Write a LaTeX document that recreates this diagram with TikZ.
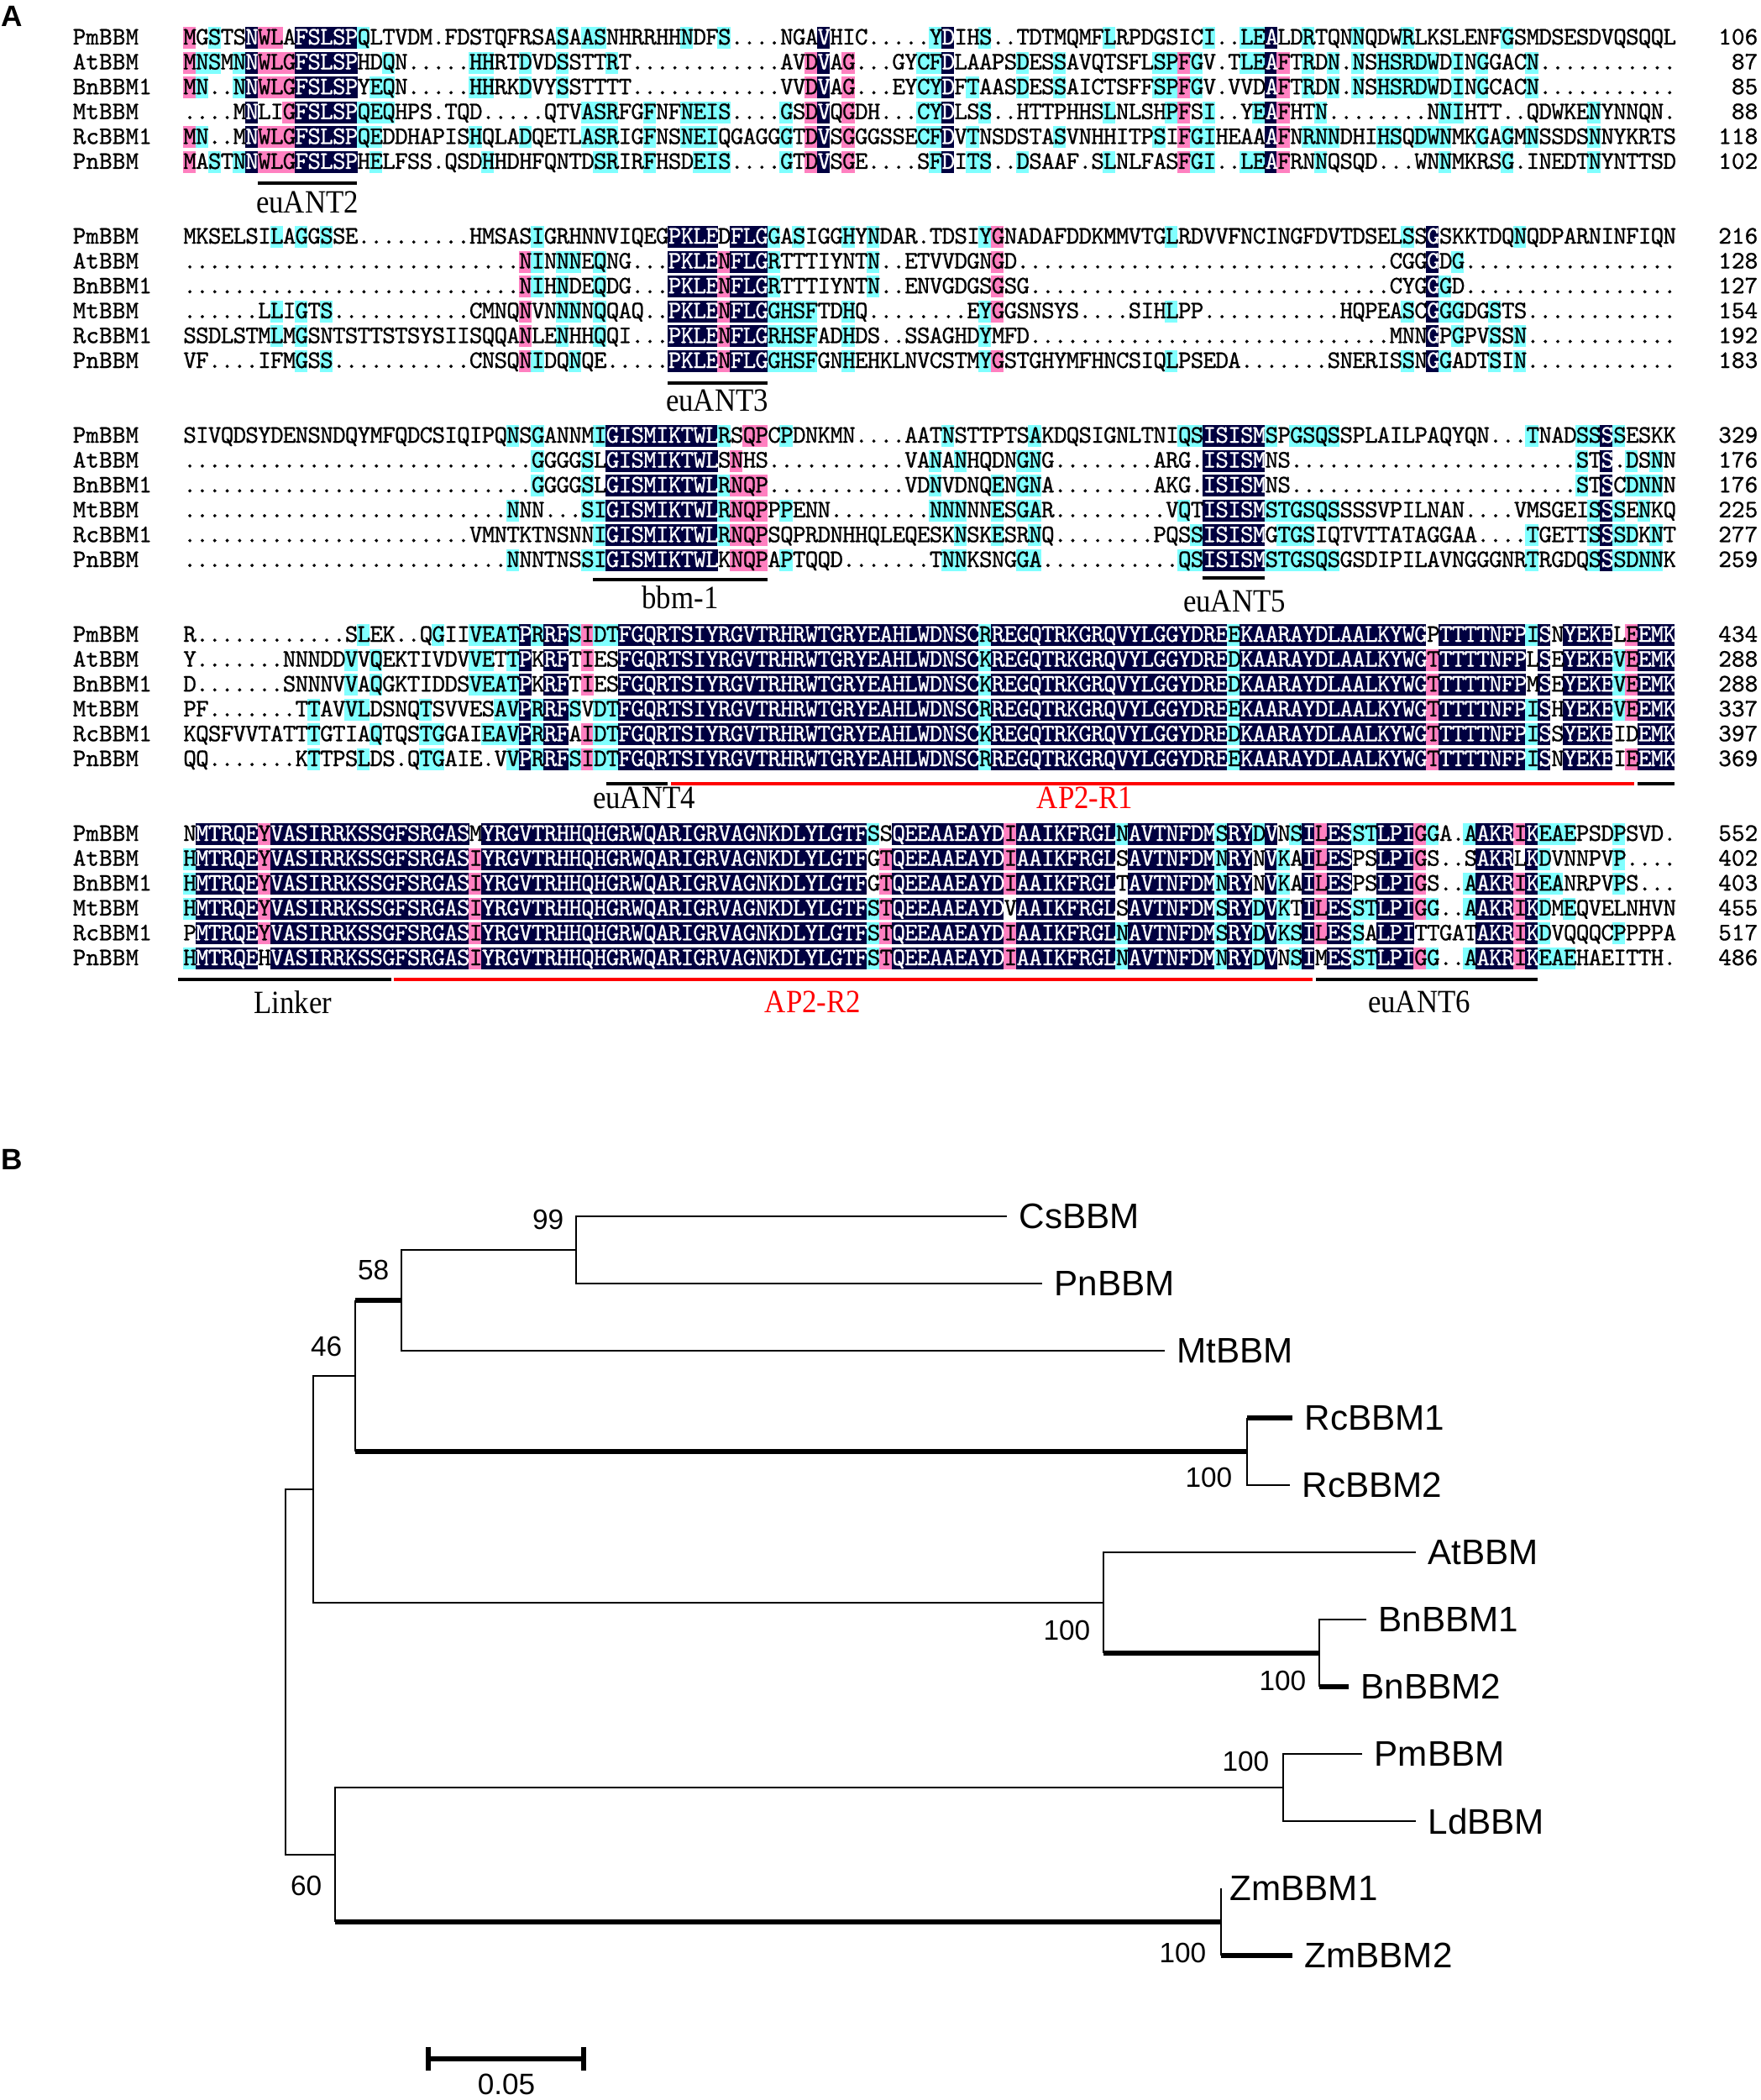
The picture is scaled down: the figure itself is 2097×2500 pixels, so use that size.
\documentclass[tikz,border=0pt]{standalone}
\usepackage{fontspec}
\setmainfont{Liberation Serif}
\setsansfont{Liberation Sans}
\newfontfamily\seqfont{lmmono10-regular}[Extension=.otf,FakeBold=0.8]
\newfontfamily\lblfont{Liberation Serif}[FakeStretch=0.9]
\usetikzlibrary{positioning}

\definecolor{alnDark}{RGB}{0,0,64}
\definecolor{alnPink}{RGB}{255,128,192}
\definecolor{alnCyan}{RGB}{128,255,255}

% one residue in a fixed cell
\newcommand\alnchar[1]{\makebox[0.148cm]{#1}}
\newcommand\alnwhite[1]{\makebox[0.148cm]{\textcolor{white}{#1}}}

% conserved stretches of the AP2 repeats
\newcommand\arA{FGQRTSIYRGVTRHRWTGRYEAHLWDNSC}
\newcommand\arB{REGQTRKGRQVYLGGYDRE}
\newcommand\arC{KAARAYDLAALKYWG}
\newcommand\rtA{VASIRRKSSGFSRGAS}
\newcommand\rtB{YRGVTRHHQHGRWQARIGRVAGNKDLYLGTF}
\newcommand\rtC{QEEAAEAYD}
\newcommand\rtD{AAIKFRGL}
\newcommand\rtE{AVTNFDM}

\ExplSyntaxOn
\seq_new:N \g_aln_rows_seq
\seq_new:N \g_aln_names_seq
\seq_new:N \g_aln_nums_seq
\int_new:N \l_aln_cnt_int
\tl_new:N \l_aln_row_tl
\tl_new:N \l_aln_ch_tl
\tl_new:N \l_aln_text_tl
\tl_new:N \l_aln_y_tl
\cs_new:Npn \gapn #1 { \prg_replicate:nn {#1} {.} }
\NewDocumentCommand \alnrow { m m m }
  {
    \seq_gput_right:Nn \g_aln_names_seq {#1}
    \seq_gput_right:Nx \g_aln_rows_seq {#2}
    \seq_gput_right:Nn \g_aln_nums_seq {#3}
  }
\cs_new_protected:Npn \aln_cell:nn #1#2
  {
    \use:x
      {
        \exp_not:N \fill [#1]
          ( \fp_eval:n { 218 + (#2 - 1) * 14.8 } , \fp_eval:n { \l_aln_y_tl - 13 } )
          rectangle
          ( \fp_eval:n { 218 + #2 * 14.8 + 0.4 } , \fp_eval:n { \l_aln_y_tl + 13 } ) ;
      }
  }
% #1 = y of first row, #2 = block tag
\NewDocumentCommand \alnblock { m m }
  {
    \int_step_inline:nn { \seq_count:N \g_aln_rows_seq }
      {
        \tl_set:Nx \l_aln_row_tl { \seq_item:Nn \g_aln_rows_seq {##1} }
        \tl_set:Nx \l_aln_y_tl { \fp_eval:n { #1 + (##1 - 1) * 29.6 } }
        \tl_clear:N \l_aln_text_tl
        \int_step_inline:nn { \tl_count:N \l_aln_row_tl }
          {
            \tl_set:Nx \l_aln_ch_tl { \tl_item:Nn \l_aln_row_tl {####1} }
            \str_if_eq:VnTF \l_aln_ch_tl { . }
              { \tl_put_right:Nn \l_aln_text_tl { \alnchar{.} } }
              {
                \int_zero:N \l_aln_cnt_int
                \seq_map_inline:Nn \g_aln_rows_seq
                  {
                    \str_if_eq:eeT { \tl_item:nn {########1} {####1} } { \l_aln_ch_tl }
                      { \int_incr:N \l_aln_cnt_int }
                  }
                \int_compare:nNnTF \l_aln_cnt_int > 5
                  {
                    \aln_cell:nn { alnDark } {####1}
                    \tl_put_right:Nx \l_aln_text_tl { \exp_not:N \alnwhite { \l_aln_ch_tl } }
                  }
                  {
                    \int_compare:nNnT \l_aln_cnt_int = 5
                      { \aln_cell:nn { alnPink } {####1} }
                    \int_compare:nNnT \l_aln_cnt_int > 2
                      { \int_compare:nNnT \l_aln_cnt_int < 5 { \aln_cell:nn { alnCyan } {####1} } }
                    \tl_put_right:Nx \l_aln_text_tl { \exp_not:N \alnchar { \l_aln_ch_tl } }
                  }
              }
          }
        \use:x
          {
            \exp_not:N \node [ seqtext ] ( #2 - seq - ##1 ) at ( 218 , \fp_eval:n { \l_aln_y_tl + 8 } )
              { \exp_not:V \l_aln_text_tl } ;
            \exp_not:N \node [ seqname ] ( #2 - name - ##1 ) at ( 86 , \fp_eval:n { \l_aln_y_tl + 8 } )
              { \seq_item:Nn \g_aln_names_seq {##1} } ;
            \exp_not:N \node [ seqnum ] ( #2 - num - ##1 ) at ( 2094 , \fp_eval:n { \l_aln_y_tl + 8 } )
              { \seq_item:Nn \g_aln_nums_seq {##1} } ;
          }
      }
    \seq_gclear:N \g_aln_rows_seq
    \seq_gclear:N \g_aln_names_seq
    \seq_gclear:N \g_aln_nums_seq
  }
\ExplSyntaxOff

\tikzset{
  seqtext/.style={anchor=base west, inner sep=0pt, font=\seqfont\fontsize{8.5}{8.5}\selectfont},
  seqname/.style={seqtext},
  seqnum/.style={anchor=base east, inner sep=0pt, font=\seqfont\fontsize{8.5}{8.5}\selectfont},
  motifline/.style={line width=1.3pt},
  redline/.style={motifline, red},
  motiflabel/.style={font=\lblfont\fontsize{11}{11}\selectfont, inner sep=0pt},
  redlabel/.style={motiflabel, text=red},
  branch/.style={line width=0.7pt},
  thickbranch/.style={line width=1.5pt},
  leaf/.style={font=\sffamily\fontsize{12}{12}\selectfont, inner sep=0pt},
  boot/.style={font=\sffamily\fontsize{9.5}{9.5}\selectfont, inner sep=0pt, anchor=east},
  panel/.style={font=\sffamily\bfseries\fontsize{10}{10}\selectfont, inner sep=0pt}
}

\begin{document}
\begin{tikzpicture}[x=0.01cm, y=-0.01cm]
\fill[white] (0,0) rectangle (2097,2500);
\path[use as bounding box] (0,0) rectangle (2097,2500);

\node[panel] (pA) at (14,19) {A};

% block 1
\alnrow{PmBBM}{MGSTSNWLAFSLSPQLTVDM.FDSTQFRSASAASNHRRHHNDFS\gapn{4}NGAVHIC\gapn{5}YDIHS..TDTMQMFLRPDGSICI..LEALDRTQNNQDWRLKSLENFGSMDSESDVQSQQL}{106}
\alnrow{AtBBM}{MNSMNNWLGFSLSPHDQN\gapn{5}HHRTDVDSSTTRT\gapn{12}AVDVAG...GYCFDLAAPSDESSAVQTSFLSPFGV.TLEAFTRDN.NSHSRDWDINGGACN\gapn{11}}{87}
\alnrow{BnBBM1}{MN..NNWLGFSLSPYEQN\gapn{5}HHRKDVYSSTTTT\gapn{12}VVDVAG...EYCYDFTAASDESSAICTSFFSPFGV.VVDAFTRDN.NSHSRDWDINGCACN\gapn{11}}{85}
\alnrow{MtBBM}{....MNLIGFSLSPQEQHPS.TQD\gapn{5}QTVASRFGFNFNEIS\gapn{4}GSDVQGDH...CYDLSS..HTTPHHSLNLSHPFSI..YEAFHTN\gapn{8}NNIHTT..QDWKENYNNQN.}{88}
\alnrow{RcBBM1}{MN..MNWLGFSLSPQEDDHAPISHQLADQETLASRIGFNSNEIQGAGGGTDVSGGGSSECFDVTNSDSTASVNHHITPSIFGIHEAAAFNRNNDHIHSQDWNMKGAGMNSSDSNNYKRTS}{118}
\alnrow{PnBBM}{MASTNNWLGFSLSPHELFSS.QSDHHDHFQNTDSRIRFHSDEIS\gapn{4}GTDVSGE\gapn{4}SFDITS..DSAAF.SLNLFASFGI..LEAFRNNQSQD...WNNMKRSG.INEDTNYNTTSD}{102}
\alnblock{45}{b1}
\coordinate (ant2L) at (306.8,218);
\coordinate (ant2R) at (425.2,218);
\draw[motifline] (ant2L) -- (ant2R);
\node[motiflabel] (ant2) at (366,241) {euANT2};

% block 2
\alnrow{PmBBM}{MKSELSILAGGSSE\gapn{9}HMSASIGRHNNVIQEGPKLEDFLGGASIGGHYNDAR.TDSIYGNADAFDDKMMVTGLRDVVFNCINGFDVTDSELSSGSKKTDQNQDPARNINFIQN}{216}
\alnrow{AtBBM}{\gapn{27}NINNNEQNG...PKLENFLGRTTTIYNTN..ETVVDGNGD\gapn{30}CGGGDG\gapn{17}}{128}
\alnrow{BnBBM1}{\gapn{27}NIHNDEQDG...PKLENFLGRTTTIYNTN..ENVGDGSGSG\gapn{29}CYGGGD\gapn{17}}{127}
\alnrow{MtBBM}{\gapn{6}LLIGTS\gapn{11}CMNQNVNNNNQQAQ..PKLENFLGGHSFTDHQ\gapn{8}EYGGSNSYS....SIHLPP\gapn{11}HQPEASCGGGDGSTS\gapn{12}}{154}
\alnrow{RcBBM1}{SSDLSTMLMGSNTSTTSTSYSIISQQANLENHHQQI...PKLENFLGRHSFADHDS..SSAGHDYMFD\gapn{29}MNNGPGPVSSN\gapn{12}}{192}
\alnrow{PnBBM}{VF....IFMGSS\gapn{11}CNSQNIDQNQE.....PKLENFLGGHSFGNHEHKLNVCSTMYGSTGHYMFHNCSIQLPSEDA\gapn{7}SNERISSNGGADTSIN\gapn{12}}{183}
\alnblock{282}{b2}
\coordinate (ant3L) at (795.2,456);
\coordinate (ant3R) at (913.6,456);
\draw[motifline] (ant3L) -- (ant3R);
\node[motiflabel] (ant3) at (854,477) {euANT3};

% block 3
\alnrow{PmBBM}{SIVQDSYDENSNDQYMFQDCSIQIPQNSGANNMIGISMIKTWLRSQPCPDNKMN....AATNSTTPTSAKDQSIGNLTNIQSISISMSPGSQSSPLAILPAQYQN...TNADSSSSESKK}{329}
\alnrow{AtBBM}{\gapn{28}GGGGSLGISMIKTWLSNHS\gapn{11}VANANHQDNGNG\gapn{8}ARG.ISISMNS\gapn{23}STS.DSNN}{176}
\alnrow{BnBBM1}{\gapn{28}GGGGSLGISMIKTWLRNQP\gapn{11}VDNVDNQENGNA\gapn{8}AKG.ISISMNS\gapn{23}STSCDNNN}{176}
\alnrow{MtBBM}{\gapn{26}NNN...SIGISMIKTWLRNQPPPENN\gapn{8}NNNNNESGAR\gapn{9}VQTISISMSTGSQSSSSVPILNAN....VMSGEISSSENKQ}{225}
\alnrow{RcBBM1}{\gapn{23}VMNTKTNSNNIGISMIKTWLRNQPSQPRDNHHQLEQESKNSKESRNQ\gapn{8}PQSSISISMGTGSIQTVTTATAGGAA....TGETTSSSDKNT}{277}
\alnrow{PnBBM}{\gapn{26}NNNTNSSIGISMIKTWLKNQPAPTQQD\gapn{7}TNNKSNGGA\gapn{11}QSISISMSTGSQSGSDIPILAVNGGGNRTRGDQSSSDNNK}{259}
\alnblock{519}{b3}
\coordinate (bbmL) at (706.4,690);
\coordinate (bbmR) at (913.6,690);
\draw[motifline] (bbmL) -- (bbmR);
\node[motiflabel] (bbm) at (810,711) {bbm-1};
\coordinate (ant5L) at (1431.6,688);
\coordinate (ant5R) at (1505.6,688);
\draw[motifline] (ant5L) -- (ant5R);
\node[motiflabel] (ant5) at (1470,716) {euANT5};

% block 4
\alnrow{PmBBM}{R\gapn{12}SLEK..QGIIVEATPRRFSIDT\arA R\arB E\arC PTTTTNFPISNYEKELEEMK}{434}
\alnrow{AtBBM}{Y\gapn{7}NNNDDVVQEKTIVDVVETTPKRFTIES\arA K\arB D\arC TTTTTNFPLSEYEKEVEEMK}{288}
\alnrow{BnBBM1}{D\gapn{7}SNNNVVAQGKTIDDSVEATPKRFTIES\arA K\arB D\arC TTTTTNFPMSEYEKEVEEMK}{288}
\alnrow{MtBBM}{PF\gapn{7}TTAVVLDSNQTSVVESAVPRRFSVDT\arA R\arB E\arC TTTTTNFPISHYEKEVEEMK}{337}
\alnrow{RcBBM1}{KQSFVVTATTTGTIAQTQSTGGAIEAVPRRFAIDT\arA K\arB D\arC TTTTTNFPISSYEKEIDEMK}{397}
\alnrow{PnBBM}{QQ\gapn{7}KTTPSLDS.QTGAIE.VVPRRFSIDT\arA R\arB E\arC TTTTTNFPISNYEKEIEEMK}{369}
\alnblock{756}{b4}
\coordinate (ant4L) at (721.6,933);
\coordinate (ant4R) at (795.2,933);
\coordinate (rOneL) at (799,933);
\coordinate (rOneR) at (1946,933);
\coordinate (tailL) at (1950,933);
\coordinate (tailR) at (1994,933);
\draw[motifline] (ant4L) -- (ant4R);
\draw[redline] (rOneL) -- (rOneR);
\draw[motifline] (tailL) -- (tailR);
\node[motiflabel] (ant4) at (767,950) {euANT4};
\node[redlabel] (rOne) at (1292,950) {AP2-R1};

% block 5
\alnrow{PmBBM}{NMTRQEY\rtA M\rtB SS\rtC I\rtD N\rtE SRYDVNSILESSTLPIGGA.AAKRIKEAEPSDPSVD.}{552}
\alnrow{AtBBM}{HMTRQEY\rtA I\rtB GT\rtC I\rtD S\rtE NRYNVKAILESPSLPIGS..SAKRLKDVNNPVP....}{402}
\alnrow{BnBBM1}{HMTRQEY\rtA I\rtB GT\rtC I\rtD T\rtE NRYNVKAILESPSLPIGS..AAKRIKEANRPVPS...}{403}
\alnrow{MtBBM}{HMTRQEY\rtA I\rtB ST\rtC V\rtD S\rtE SRYDVKTILESSTLPIGG..AAKRIKDMEQVELNHVN}{455}
\alnrow{RcBBM1}{PMTRQEY\rtA I\rtB ST\rtC I\rtD N\rtE SRYDVKSILESSALPITTGATAKRIKDVQQQCPPPPA}{517}
\alnrow{PnBBM}{HMTRQEH\rtA I\rtB ST\rtC I\rtD N\rtE NRYDVNSIMESSTLPIGG..AAKRIKEAEHAEITTH.}{486}
\alnblock{993}{b5}
\coordinate (lnkL) at (212,1166);
\coordinate (lnkR) at (466,1166);
\coordinate (rTwoL) at (469,1166);
\coordinate (rTwoR) at (1563,1166);
\coordinate (ant6L) at (1567,1166);
\coordinate (ant6R) at (1831,1166);
\draw[motifline] (lnkL) -- (lnkR);
\draw[redline] (rTwoL) -- (rTwoR);
\draw[motifline] (ant6L) -- (ant6R);
\node[motiflabel] (lnk) at (349,1193) {Linker};
\node[redlabel] (rTwo) at (968,1193) {AP2-R2};
\node[motiflabel] (ant6) at (1690,1193) {euANT6};

% tree
\node[panel] (pB) at (14,1380) {B};

\coordinate (csTip) at (1199,1448);
\coordinate (pnTip) at (1241,1528);
\coordinate (mtTip) at (1387,1608);
\coordinate (rcaTip) at (1539,1688);
\coordinate (rcbTip) at (1536,1768);
\coordinate (atTip) at (1686,1848);
\coordinate (bnaTip) at (1627,1928);
\coordinate (bnbTip) at (1606,2008);
\coordinate (pmTip) at (1622,2088);
\coordinate (ldTip) at (1686,2168);
\coordinate (zmaTip) at (1454,2248);
\coordinate (zmbTip) at (1539,2328);

\coordinate (nCsPn) at (686,1488);
\coordinate (nMt) at (478,1548);
\coordinate (nRc) at (1485,1728);
\coordinate (nUp) at (423,1638);
\coordinate (nBn) at (1571,1968);
\coordinate (nAtBn) at (1314,1908);
\coordinate (nDicot) at (373,1773);
\coordinate (nPmLd) at (1528,2128);
\coordinate (nZm) at (1454,2288);
\coordinate (nMono) at (399,2208);
\coordinate (nRoot) at (340,1990);

\draw[branch] (csTip) -| (nCsPn) |- (pnTip);
\draw[branch] (nCsPn) -| (nMt) |- (mtTip);
\draw[branch] (nUp |- nMt) -- (nUp |- nRc);
\draw[thickbranch] (nUp |- nMt) -- (nMt);
\draw[thickbranch] (nUp |- nRc) -- (nRc);
\draw[branch] (nRc |- rcaTip) -- (nRc) |- (rcbTip);
\draw[thickbranch] (nRc |- rcaTip) -- (rcaTip);
\draw[branch] (atTip) -| (nAtBn) -- (nAtBn |- nBn);
\draw[thickbranch] (nAtBn |- nBn) -- (nBn);
\draw[branch] (bnaTip) -| (nBn) -- (nBn |- bnbTip);
\draw[thickbranch] (nBn |- bnbTip) -- (bnbTip);
\draw[branch] (nUp) -| (nDicot) |- (nAtBn);
\draw[branch] (pmTip) -| (nPmLd) |- (ldTip);
\draw[branch] (zmaTip) -- (nZm) -- (nZm |- zmbTip);
\draw[thickbranch] (nZm |- zmbTip) -- (zmbTip);
\draw[branch] (nPmLd) -| (nMono) -- (nMono |- nZm);
\draw[thickbranch] (nMono |- nZm) -- (nZm);
\draw[branch] (nDicot) -| (nRoot) |- (nMono);

\node[leaf, right=0.14cm of csTip] (cs) {CsBBM};
\node[leaf, right=0.14cm of pnTip] (pn) {PnBBM};
\node[leaf, right=0.14cm of mtTip] (mt) {MtBBM};
\node[leaf, right=0.14cm of rcaTip] (rca) {RcBBM1};
\node[leaf, right=0.14cm of rcbTip] (rcb) {RcBBM2};
\node[leaf, right=0.14cm of atTip] (at) {AtBBM};
\node[leaf, right=0.14cm of bnaTip] (bna) {BnBBM1};
\node[leaf, right=0.14cm of bnbTip] (bnb) {BnBBM2};
\node[leaf, right=0.14cm of pmTip] (pm) {PmBBM};
\node[leaf, right=0.14cm of ldTip] (ld) {LdBBM};
\node[leaf, right=0.1cm of zmaTip] (zma) {ZmBBM1};
\node[leaf, right=0.14cm of zmbTip] (zmb) {ZmBBM2};

\node[boot] (bsCsPn) at (672,1452) {99};
\node[boot] (bsMt) at (464,1512) {58};
\node[boot] (bsUp) at (408,1603) {46};
\node[boot] (bsRc) at (1468,1759) {100};
\node[boot] (bsAtBn) at (1299,1941) {100};
\node[boot] (bsBn) at (1556,2001) {100};
\node[boot] (bsPmLd) at (1512,2097) {100};
\node[boot] (bsZm) at (1437,2325) {100};
\node[boot] (bsMono) at (384,2245) {60};

% scale bar
\draw[thickbranch] (510,2437) -- (510,2465) (510,2451) -- (695,2451) (695,2437) -- (695,2465);
\node[font=\sffamily\fontsize{10}{10}\selectfont, inner sep=0pt] (sbText) at (603,2481) {0.05};

\end{tikzpicture}
\end{document}
